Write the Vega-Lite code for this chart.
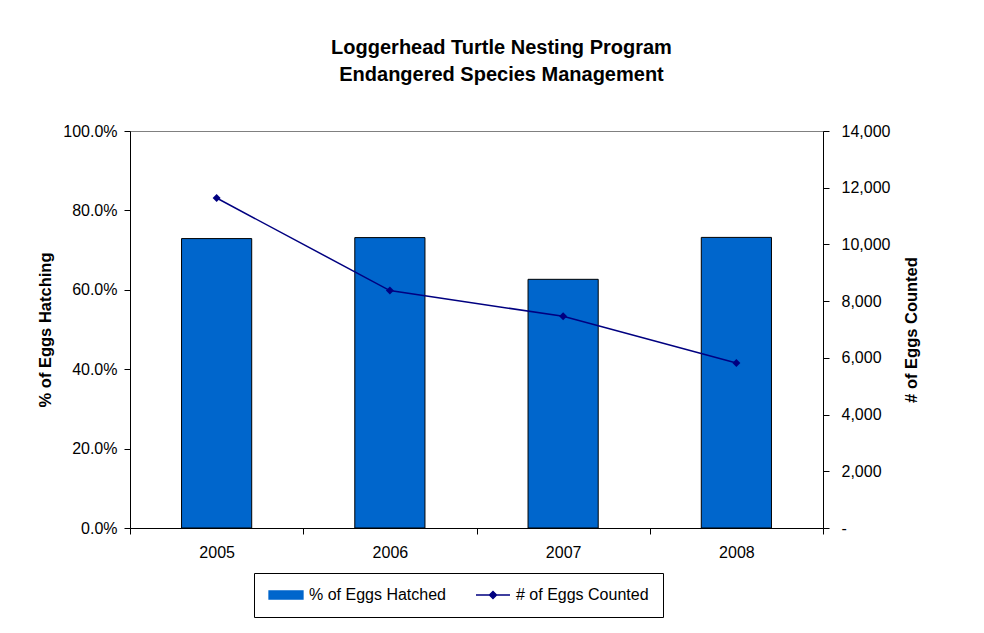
{
  "$schema": "https://vega.github.io/schema/vega-lite/v6.json",
  "width": 693,
  "height": 397,
  "autosize": "none",
  "padding": {"left": 130, "top": 131, "right": 161, "bottom": 105},
  "background": "white",
  "config": {
    "font": "Liberation Sans",
    "view": {"stroke": "#808080", "strokeWidth": 1},
    "axis": {
      "domainColor": "black",
      "tickColor": "black",
      "labelColor": "black",
      "titleColor": "black",
      "labelFontSize": 16,
      "labelFont": "Liberation Sans",
      "titleFont": "Liberation Sans",
      "titleFontSize": 16.5,
      "titleFontWeight": "bold",
      "tickSize": 6,
      "grid": false
    },
    "legend": {
      "labelFont": "Liberation Sans",
      "orient": "none",
      "legendX": 124,
      "legendY": 442,
      "direction": "horizontal",
      "strokeColor": "black",
      "fillColor": "white",
      "padding": 14,
      "labelFontSize": 16,
      "labelColor": "black",
      "symbolSize": 196,
      "symbolOffset": 0,
      "labelOffset": 25,
      "columnPadding": 27,
      "symbolOpacity": 1,
      "symbolStrokeColor": "#000080",
      "symbolStrokeWidth": 1.3
    }
  },
  "title": {
    "text": ["Loggerhead Turtle Nesting Program", "Endangered Species Management"],
    "fontSize": 20,
    "fontWeight": "bold",
    "color": "black",
    "font": "Liberation Sans",
    "anchor": "middle",
    "dx": 25,
    "offset": 38,
    "lineHeight": 27
  },
  "data": {
    "values": [
      {"year": "2005", "hatched": 0.729, "counted": 11637},
      {"year": "2006", "hatched": 0.7315, "counted": 8372},
      {"year": "2007", "hatched": 0.6264, "counted": 7465},
      {"year": "2008", "hatched": 0.732, "counted": 5819}
    ]
  },
  "encoding": {
    "x": {
      "field": "year",
      "type": "ordinal",
      "scale": {"paddingInner": 0, "paddingOuter": 0},
      "axis": {"title": null, "labelAngle": 0, "tickBand": "extent", "labelPadding": 10}
    }
  },
  "layer": [
    {
      "mark": {"type": "bar", "width": {"band": 0.405}, "stroke": "black", "strokeWidth": 1},
      "encoding": {
        "y": {
          "field": "hatched",
          "type": "quantitative",
          "scale": {"domain": [0, 1], "nice": false},
          "axis": {
            "title": "% of Eggs Hatching",
            "values": [0, 0.2, 0.4, 0.6, 0.8, 1],
            "format": ".1%",
            "labelPadding": 7,
            "titlePadding": 9
          }
        },
        "color": {
          "datum": "% of Eggs Hatched",
          "scale": {"domain": ["% of Eggs Hatched", "# of Eggs Counted"], "range": ["#0066cc", "#000080"]},
          "legend": {"title": null}
        }
      }
    },
    {
      "encoding": {
        "y": {
          "field": "counted",
          "type": "quantitative",
          "scale": {"domain": [0, 14000], "nice": false},
          "axis": {
            "orient": "right",
            "title": "# of Eggs Counted",
            "titleAngle": 270,
            "values": [0, 2000, 4000, 6000, 8000, 10000, 12000, 14000],
            "labelExpr": "datum.value === 0 ? '-' : format(datum.value, ',')",
            "labelPadding": 12,
            "titlePadding": 30
          }
        },
        "color": {"datum": "# of Eggs Counted", "legend": {"title": null}}
      },
      "layer": [
        {"mark": {"type": "line", "strokeWidth": 1.5}},
        {"mark": {"type": "point", "shape": "diamond", "filled": true, "size": 64, "opacity": 1}}
      ]
    },
    {
      "mark": {"type": "point", "filled": true, "opacity": 0},
      "encoding": {
        "color": {"datum": "% of Eggs Hatched", "legend": {"title": null}},
        "shape": {
          "datum": "% of Eggs Hatched",
          "scale": {
            "domain": ["% of Eggs Hatched", "# of Eggs Counted"],
            "range": ["M-1,-0.571H3.857V0.571H-1Z", "M-1,0H3.857M0.914,0L1.4286,-0.514L1.943,0L1.4286,0.514Z"]
          },
          "legend": {"title": null}
        }
      }
    }
  ],
  "resolve": {"scale": {"y": "independent"}}
}
